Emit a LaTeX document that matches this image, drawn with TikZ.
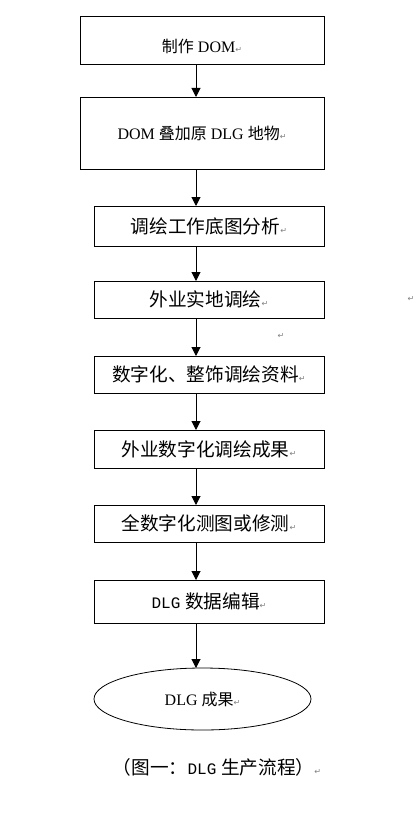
\documentclass[tikz,border=0pt]{standalone}
\usepackage{fontspec}
\setmainfont{Liberation Serif}
\newfontfamily\cjk{Noto Sans CJK SC}
\newfontfamily\codefont{Liberation Mono}
\newfontfamily\symfont{DejaVu Sans}
\usetikzlibrary{arrows.meta,positioning,shapes.geometric}
\newcommand{\retmark}{{\color{gray}\symfont\fontsize{6}{6}\selectfont ↵}}

\begin{document}
\begin{tikzpicture}[x=0.75pt, y=-0.75pt,
            every node/.style={inner sep=0pt, outer sep=0pt},
            stepbox/.style={draw, rectangle, line width=0.75pt, font=\fontsize{14}{16}\selectfont},
            widebox/.style={minimum width=183pt},
            narrowbox/.style={minimum width=172.5pt},
            endbox/.style={draw, ellipse, line width=0.6pt, minimum width=162.75pt,
                           minimum height=46.5pt, font=\fontsize{12}{14}\selectfont},
            flow/.style={draw, line width=0.75pt, -{Triangle[length=6.75pt, width=6.75pt]}}]
        \useasboundingbox (0,0) rectangle (416,824);
        \coordinate (axis) at (196,0);

        \node[stepbox, widebox, minimum height=36pt, font=\fontsize{12}{14}\selectfont]
            (nodeA) at (202,41) {\smash{\raisebox{-9pt}{{\cjk 制作} DOM\retmark}}};
        \node[stepbox, widebox, minimum height=54pt, font=\fontsize{12}{14}\selectfont]
            (nodeB) at (202,133) {DOM {\cjk 叠加原} DLG {\cjk 地物}\retmark};
        \node[stepbox, narrowbox, minimum height=30pt] (nodeC) at (209,226) {\cjk 调绘工作底图分析\retmark};
        \node[stepbox, narrowbox, minimum height=27.75pt] (nodeD) at (209,299.5) {\cjk 外业实地调绘\retmark};
        \node[stepbox, narrowbox, minimum height=27.75pt] (nodeE) at (209,374.5) {\cjk 数字化、整饰调绘资料\retmark};
        \node[stepbox, narrowbox, minimum height=28.5pt] (nodeF) at (209,449) {\cjk 外业数字化调绘成果\retmark};
        \node[stepbox, narrowbox, minimum height=27.75pt] (nodeG) at (209,523.5) {\cjk 全数字化测图或修测\retmark};
        \node[stepbox, narrowbox, minimum height=32.25pt] (nodeH) at (209,601.5)
            {{\codefont\fontsize{12}{14}\selectfont DLG} {\cjk 数据编辑}\retmark};
        \node[endbox] (nodeI) at (202.5,699) {DLG {\cjk 成果}\retmark};

        \foreach \a/\b in {nodeA/nodeB, nodeB/nodeC, nodeC/nodeD, nodeD/nodeE,
                           nodeE/nodeF, nodeF/nodeG, nodeG/nodeH, nodeH/nodeI}
            \draw[flow] (\a.south -| axis) -- (\b.north -| axis);

        % caption and stray paragraph marks
        \node[font=\fontsize{14}{16}\selectfont] (caption) at (217,767)
            {{\cjk （图一：}{\codefont\fontsize{12}{14}\selectfont DLG} {\cjk 生产流程）}\retmark};
        \node (markA) at (411,299) {\retmark};
        \node (markB) at (281,336) {\retmark};
\end{tikzpicture}
\end{document}
